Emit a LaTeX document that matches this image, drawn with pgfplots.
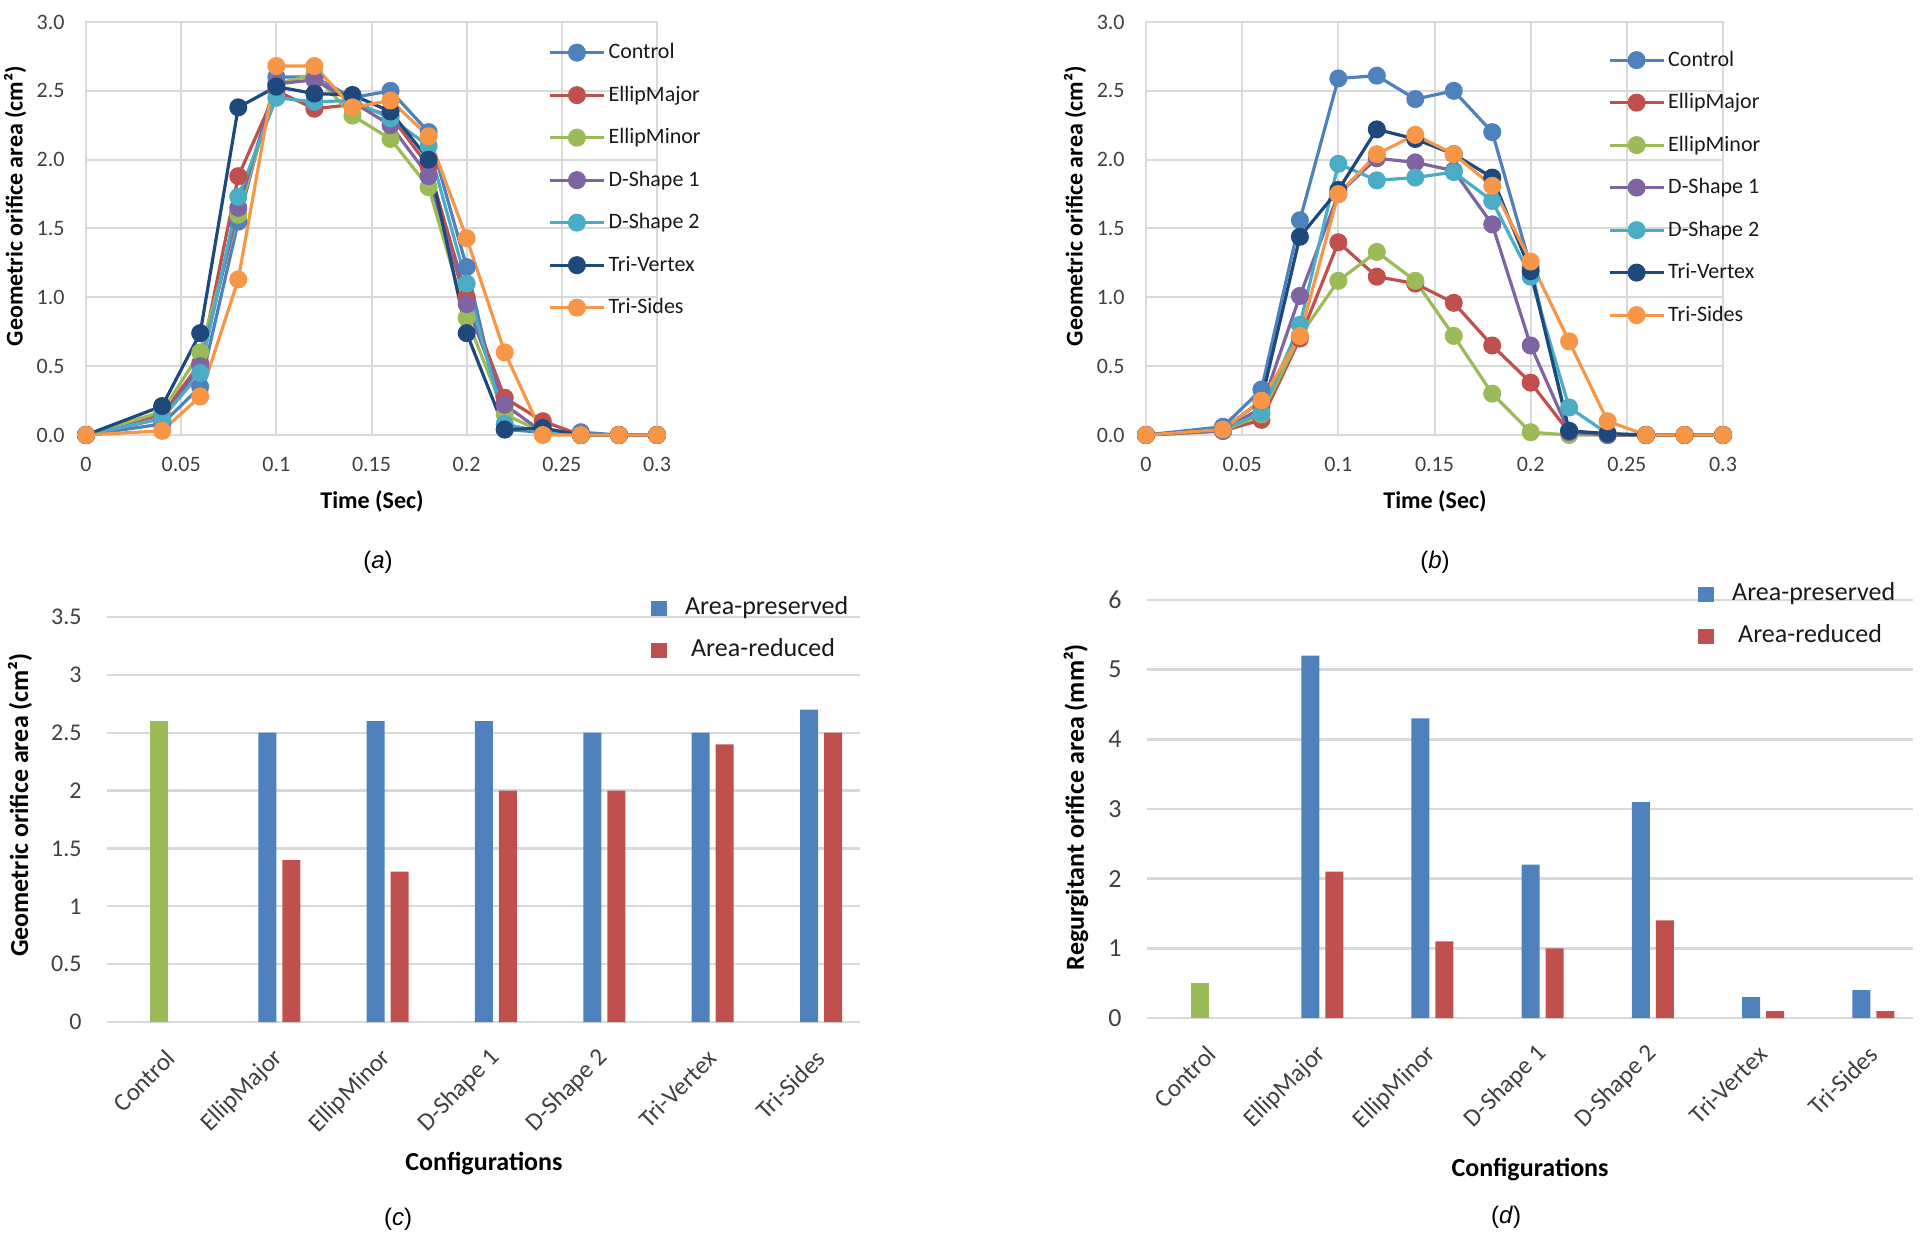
\documentclass[border=0pt]{standalone}
\usepackage{fontspec}
\setmainfont{Carlito}
\newfontfamily\arialfont{Liberation Sans}
\usepackage{pgfplots}
\usepackage{pgfplotstable}
\pgfplotsset{compat=1.18}

\definecolor{cCtrl}{HTML}{4F81BD}
\definecolor{cEMaj}{HTML}{C0504D}
\definecolor{cEMin}{HTML}{9BBB59}
\definecolor{cDa}{HTML}{8064A2}
\definecolor{cDb}{HTML}{4BACC6}
\definecolor{cTV}{HTML}{1F497D}
\definecolor{cTS}{HTML}{F79646}
\definecolor{gridgray}{HTML}{D9D9D9}
\definecolor{txtgray}{HTML}{404040}

\pgfplotstableread{
t     ctrl  emaj  emin  da    db    tv    ts
0     0     0     0     0     0     0     0
0.04  0.08  0.15  0.17  0.12  0.12  0.21  0.03
0.06  0.35  0.52  0.60  0.50  0.45  0.74  0.28
0.08  1.55  1.88  1.60  1.65  1.73  2.38  1.13
0.10  2.60  2.50  2.55  2.55  2.45  2.53  2.68
0.12  2.60  2.37  2.62  2.58  2.42  2.48  2.68
0.14  2.45  2.40  2.32  2.42  2.43  2.47  2.38
0.16  2.50  2.32  2.15  2.25  2.30  2.35  2.43
0.18  2.20  1.95  1.80  1.88  2.10  2.00  2.17
0.20  1.22  1.00  0.85  0.95  1.10  0.74  1.43
0.22  0.04  0.27  0.15  0.22  0.08  0.04  0.60
0.24  0.02  0.10  0.02  0.02  0.02  0.05  0.00
0.26  0.02  0.00  0.00  0.00  0.00  0.00  0.00
0.28  0     0     0     0     0     0     0
0.30  0     0     0     0     0     0     0
}\dataA

\pgfplotstableread{
t     ctrl  emaj  emin  da    db    tv    ts
0     0     0     0     0     0     0     0
0.04  0.06  0.03  0.03  0.03  0.04  0.04  0.04
0.06  0.33  0.11  0.15  0.20  0.16  0.25  0.25
0.08  1.56  0.70  0.72  1.01  0.80  1.44  0.72
0.10  2.59  1.40  1.12  1.75  1.97  1.78  1.75
0.12  2.61  1.15  1.33  2.01  1.85  2.22  2.04
0.14  2.44  1.10  1.12  1.98  1.87  2.15  2.18
0.16  2.50  0.96  0.72  1.92  1.91  2.04  2.04
0.18  2.20  0.65  0.30  1.53  1.70  1.87  1.81
0.20  1.22  0.38  0.02  0.65  1.15  1.19  1.26
0.22  0.03  0.02  0.00  0.02  0.20  0.03  0.68
0.24  0.00  0.00  0.00  0.00  0.01  0.01  0.10
0.26  0     0     0     0     0     0     0
0.28  0     0     0     0     0     0     0
0.30  0     0     0     0     0     0     0
}\dataB

\pgfplotsset{
  lineax/.style={
    scale only axis, height=206.5pt, anchor=south west,
    xmin=0, xmax=0.3, ymin=0, ymax=3,
    xtick={0,0.05,0.1,0.15,0.2,0.25,0.3},
    xticklabels={0,0.05,0.1,0.15,0.2,0.25,0.3},
    ytick={0,0.5,1,1.5,2,2.5,3},
    yticklabels={0.0,0.5,1.0,1.5,2.0,2.5,3.0},
    grid=major, major grid style={draw=gridgray, line width=1pt},
    axis line style={draw=gridgray, line width=1pt},
    major tick length=0pt,
    /pgf/number format/assume math mode=true,
    tick label style={font=\fontsize{11}{13}\selectfont, text=txtgray},
    xticklabel style={anchor=north, inner sep=0pt, yshift=-11pt},
    yticklabel style={anchor=east, inner sep=0pt, xshift=-10.5pt},
    clip=false,
    every axis plot/.append style={line width=1.6pt, mark=*, mark size=3.7pt, mark options={solid}},
    legend style={anchor=west, draw=none, fill=none, inner sep=0pt,
      font=\fontsize{11}{13}\selectfont, text=black!90,
      nodes={text height=8pt, text depth=2pt, inner sep=0pt},
      row sep=11.25pt, column sep=1.5pt},
    legend cell align=left,
    legend image code/.code={\draw[mark repeat=2,mark phase=2,#1] plot coordinates {(0pt,0pt) (13.5pt,0pt) (27pt,0pt)};},
  },
  barax/.style={
    scale only axis, anchor=south west,
    xmin=-0.59, xmax=6.36, ymin=0,
    xtick={0,1,2,3,4,5,6},
    xticklabels={Control,EllipMajor,EllipMinor,D-Shape 1,D-Shape 2,Tri-Vertex,Tri-Sides},
    ymajorgrids, major grid style={draw=gridgray, line width=1.2pt},
    axis line style={draw=none},
    major tick length=0pt,
    /pgf/number format/assume math mode=true,
    tick label style={text=txtgray},
    xticklabel style={font=\fontsize{12.5}{14}\selectfont, anchor=east, inner sep=0pt, yshift=-16pt, rotate=45},
    yticklabel style={anchor=east, inner sep=0pt, xshift=-12.5pt},
    legend style={anchor=west, draw=none, fill=none, inner sep=0pt,
      font=\fontsize{13}{15}\selectfont, text=black!90,
      nodes={text height=9.5pt, text depth=3pt, inner sep=0pt},
      row sep=8.5pt, column sep=9pt},
    legend cell align=left,
  },
}

\begin{document}
\begin{tikzpicture}
\path[use as bounding box] (0pt,0pt) rectangle (960pt,621pt);

% ---------- (a)
\begin{axis}[lineax, at={(43pt,403.5pt)}, width=285.5pt,
  legend style={at={(0.809,0.617)}}]
\addplot[cCtrl] table[x=t,y=ctrl]{\dataA}; \addlegendentry{Control}
\addplot[cEMaj] table[x=t,y=emaj]{\dataA}; \addlegendentry{EllipMajor}
\addplot[cEMin] table[x=t,y=emin]{\dataA}; \addlegendentry{EllipMinor}
\addplot[cDa] table[x=t,y=da]{\dataA}; \addlegendentry{D-Shape 1}
\addplot[cDb] table[x=t,y=db]{\dataA}; \addlegendentry{D-Shape 2}
\addplot[cTV] table[x=t,y=tv]{\dataA}; \addlegendentry{Tri-Vertex}
\addplot[cTS] table[x=t,y=ts]{\dataA}; \addlegendentry{Tri-Sides}
\end{axis}

% ---------- (b)
\begin{axis}[lineax, at={(573pt,403.5pt)}, width=288.5pt,
  legend style={at={(0.80,0.599)}}]
\addplot[cCtrl] table[x=t,y=ctrl]{\dataB}; \addlegendentry{Control}
\addplot[cEMaj] table[x=t,y=emaj]{\dataB}; \addlegendentry{EllipMajor}
\addplot[cEMin] table[x=t,y=emin]{\dataB}; \addlegendentry{EllipMinor}
\addplot[cDa] table[x=t,y=da]{\dataB}; \addlegendentry{D-Shape 1}
\addplot[cDb] table[x=t,y=db]{\dataB}; \addlegendentry{D-Shape 2}
\addplot[cTV] table[x=t,y=tv]{\dataB}; \addlegendentry{Tri-Vertex}
\addplot[cTS] table[x=t,y=ts]{\dataB}; \addlegendentry{Tri-Sides}
\end{axis}

% ---------- (c)
\begin{axis}[barax, at={(53.5pt,110pt)}, width=376.5pt, height=202.5pt,
  ymax=3.5, ytick={0,0.5,1,1.5,2,2.5,3,3.5},
  yticklabels={0,0.5,1,1.5,2,2.5,3,3.5},
  yticklabel style={font=\fontsize{12}{14}\selectfont},
  legend style={at={(0.7224,0.970)}}]
\addplot[ybar, bar width=9pt, bar shift=-6pt, fill=cEMin, draw=none, forget plot] coordinates {(0,2.6)};
\addplot[ybar, bar width=9pt, bar shift=-6pt, fill=cCtrl, draw=none, forget plot] coordinates {(1,2.5) (2,2.6) (3,2.6) (4,2.5) (5,2.5) (6,2.7)};
\addplot[ybar, bar width=9pt, bar shift=6pt, fill=cEMaj, draw=none, forget plot] coordinates {(1,1.4) (2,1.3) (3,2.0) (4,2.0) (5,2.4) (6,2.5)};
\addlegendimage{legend image code/.code={\fill[cCtrl] (0pt,-3.5pt) rectangle (7.5pt,3.5pt);}}
\addlegendentry{Area-preserved}
\addlegendimage{legend image code/.code={\fill[cEMaj] (0pt,-3.5pt) rectangle (7.5pt,3.5pt);}}
\addlegendentry{\hspace{3pt}Area-reduced}
\end{axis}

% ---------- (d)
\begin{axis}[barax, at={(573.5pt,112pt)}, width=383pt, height=209pt,
  ymax=6, ytick={0,1,2,3,4,5,6},
  yticklabels={0,1,2,3,4,5,6},
  yticklabel style={font=\fontsize{13}{15}\selectfont},
  legend style={at={(0.7193,0.963)}}]
\addplot[ybar, bar width=9pt, bar shift=-6pt, fill=cEMin, draw=none, forget plot] coordinates {(0,0.5)};
\addplot[ybar, bar width=9pt, bar shift=-6pt, fill=cCtrl, draw=none, forget plot] coordinates {(1,5.2) (2,4.3) (3,2.2) (4,3.1) (5,0.3) (6,0.4)};
\addplot[ybar, bar width=9pt, bar shift=6pt, fill=cEMaj, draw=none, forget plot] coordinates {(1,2.1) (2,1.1) (3,1.0) (4,1.4) (5,0.1) (6,0.1)};
\addlegendimage{legend image code/.code={\fill[cCtrl] (0pt,-3.5pt) rectangle (7.5pt,3.5pt);}}
\addlegendentry{Area-preserved}
\addlegendimage{legend image code/.code={\fill[cEMaj] (0pt,-3.5pt) rectangle (7.5pt,3.5pt);}}
\addlegendentry{\hspace{3pt}Area-reduced}
\end{axis}

% ---------- titles
\node[font=\bfseries\fontsize{12}{14}\selectfont] at (186pt,370.5pt) {Time (Sec)};
\node[font=\bfseries\fontsize{12}{14}\selectfont] at (717.5pt,370.5pt) {Time (Sec)};
\node[rotate=90, font=\bfseries\fontsize{12}{14}\selectfont] at (7.5pt,518pt) {Geometric orifice area (cm²)};
\node[rotate=90, font=\bfseries\fontsize{12}{14}\selectfont] at (537.5pt,518pt) {Geometric orifice area (cm²)};
\node[font=\bfseries\fontsize{13}{15}\selectfont] at (242pt,39pt) {Configurations};
\node[font=\bfseries\fontsize{13}{15}\selectfont] at (765pt,36pt) {Configurations};
\node[rotate=90, font=\bfseries\fontsize{13}{15}\selectfont] at (10pt,218.5pt) {Geometric orifice area (cm²)};
\node[rotate=90, font=\bfseries\fontsize{13}{15}\selectfont] at (538pt,217.5pt) {Regurgitant orifice area (mm²)};

% ---------- captions
\node[font=\arialfont\fontsize{12}{14}\selectfont] at (189pt,340pt) {(\textit{a})};
\node[font=\arialfont\fontsize{12}{14}\selectfont] at (717.5pt,340pt) {(\textit{b})};
\node[font=\arialfont\fontsize{12}{14}\selectfont] at (199pt,11.5pt) {(\textit{c})};
\node[font=\arialfont\fontsize{12}{14}\selectfont] at (753pt,12.5pt) {(\textit{d})};
\end{tikzpicture}
\end{document}
